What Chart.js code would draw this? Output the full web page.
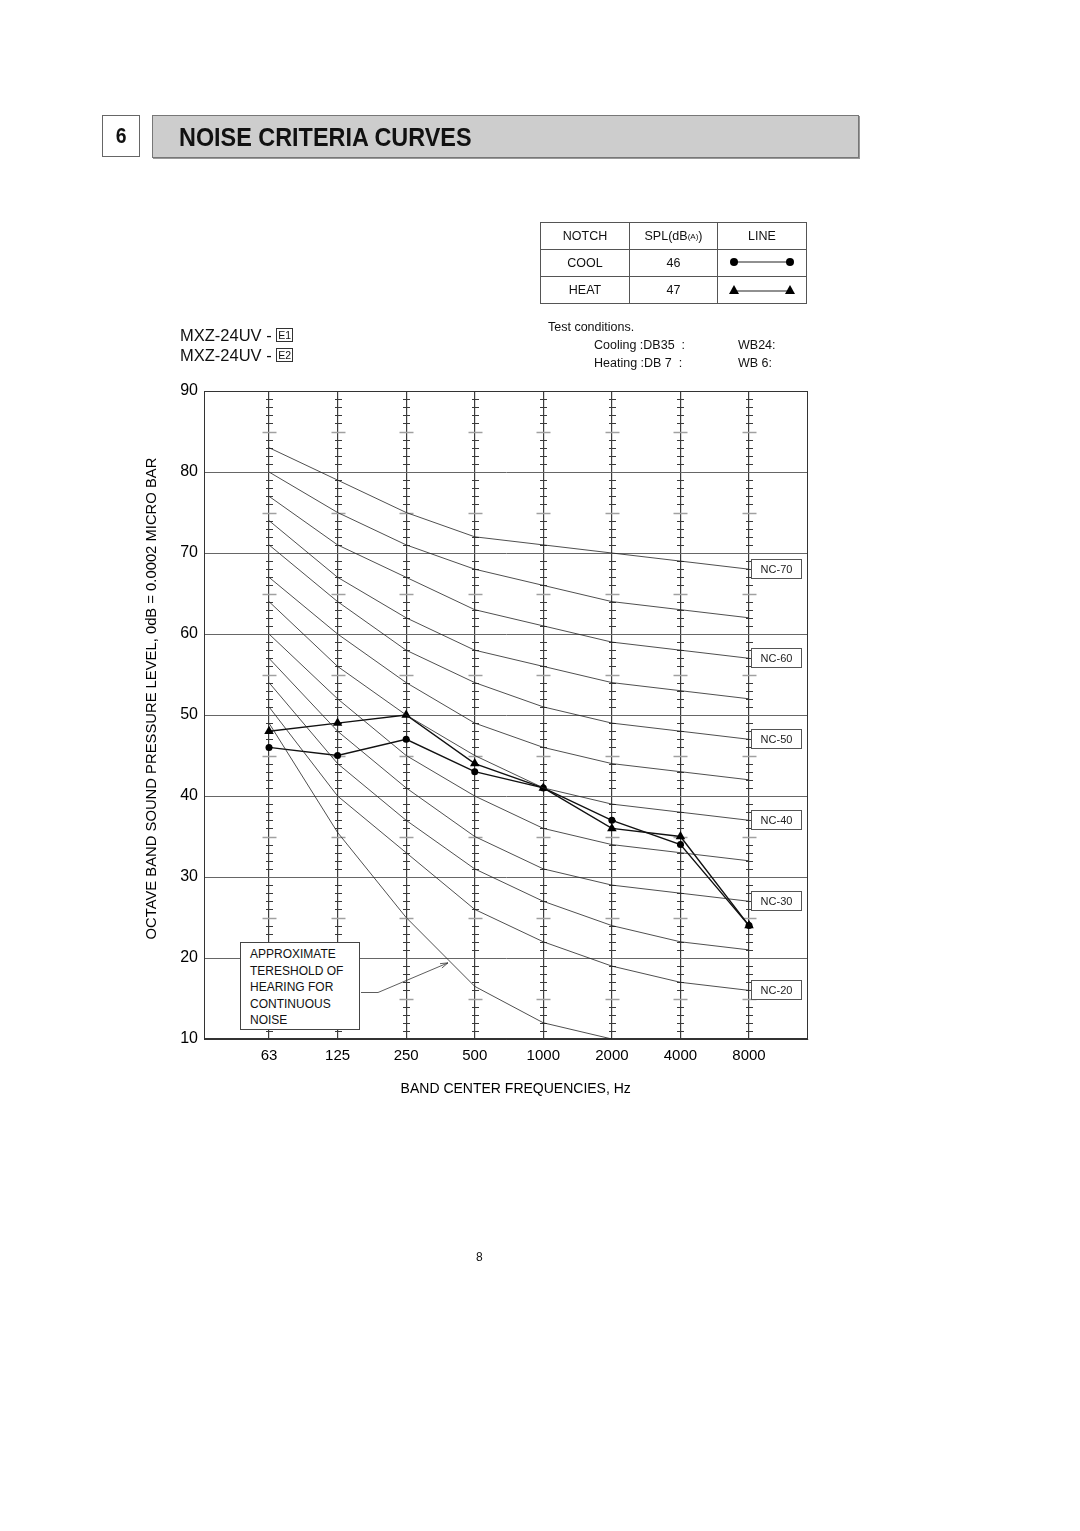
<!DOCTYPE html>
<html>
<head>
<meta charset="utf-8">
<script src="https://cdn.jsdelivr.net/npm/chart.js@4.4.1/dist/chart.umd.min.js"></script>
<style>
  body { margin: 0; background: #fff; font-family: "Liberation Sans", Arial, Helvetica, sans-serif; color: #111; }
  #page { position: relative; width: 1080px; height: 1531px; overflow: hidden; }
  #c { position: absolute; left: 0; top: 0; }
  .abs { position: absolute; }
  #secnum { left: 102px; top: 115px; width: 36px; height: 40px; border: 1px solid #666; text-align: center;
            font: bold 22px/40px "Liberation Sans", Arial, sans-serif; }
  #secnum span { display: inline-block; transform: scaleX(0.88); }
  #sectitle { left: 152px; top: 115px; width: 705px; height: 41px; background: #cdcdcd; border: 1px solid #777;
              box-shadow: 1px 1px 0 #999; }
  #sectitle span { position: absolute; left: 26px; top: 0; white-space: nowrap; transform: scaleX(0.9); transform-origin: 0 50%;
                   font: bold 26px/42px "Liberation Sans", Arial, sans-serif; }
  #legendTbl { left: 540px; top: 222px; border-collapse: collapse; border: 1.5px solid #333; font-size: 12.5px; }
  #legendTbl td { border: 1px solid #555; height: 26px; text-align: center; padding: 0; }
  #legendTbl sub { font-size: 8px; vertical-align: 1px; }
  #models { left: 180px; top: 325px; font-size: 16.5px; line-height: 20px; }
  .ebox { display: inline-block; border: 1px solid #333; font-size: 10.5px; line-height: 12px; padding: 0 1px; vertical-align: 2px; }
  .tc { font-size: 12.5px; }
  #thresh { left: 240px; top: 942px; width: 100px; height: 80px; border: 1px solid #444; background: #fff;
            padding: 3px 9px; font-size: 12px; line-height: 16.5px; }
</style>
</head>
<body>
<div id="page">
  <canvas id="c" width="1080" height="1531"></canvas>

  <div id="secnum" class="abs"><span>6</span></div>
  <div id="sectitle" class="abs"><span>NOISE CRITERIA CURVES</span></div>

  <table id="legendTbl" class="abs">
    <tr><td style="width:88px">NOTCH</td><td style="width:87px">SPL(dB<sub>(A)</sub>)</td><td style="width:88px">LINE</td></tr>
    <tr><td>COOL</td><td>46</td><td>
      <svg width="70" height="12"><line x1="7" y1="6" x2="63" y2="6" stroke="#222" stroke-width="1.2"/><circle cx="7" cy="6" r="4" fill="#000"/><circle cx="63" cy="6" r="4" fill="#000"/></svg>
    </td></tr>
    <tr><td>HEAT</td><td>47</td><td>
      <svg width="70" height="12"><line x1="7" y1="8" x2="63" y2="8" stroke="#222" stroke-width="1.2"/><polygon points="2,11 7,2 12,11" fill="#000"/><polygon points="58,11 63,2 68,11" fill="#000"/></svg>
    </td></tr>
  </table>

  <div id="models" class="abs">MXZ-24UV - <span class="ebox">E1</span><br>MXZ-24UV - <span class="ebox">E2</span></div>

  <div class="abs tc" style="left:548px;top:320px;">Test conditions.</div>
  <div class="abs tc" style="left:594px;top:338px;">Cooling :DB35&nbsp;&nbsp;:</div>
  <div class="abs tc" style="left:738px;top:338px;">WB24:</div>
  <div class="abs tc" style="left:594px;top:356px;">Heating :DB 7&nbsp;&nbsp;:</div>
  <div class="abs tc" style="left:738px;top:356px;">WB 6:</div>

  <div id="thresh" class="abs">APPROXIMATE<br>TERESHOLD OF<br>HEARING FOR<br>CONTINUOUS<br>NOISE</div>

  <div class="abs" style="left:476px;top:1250px;font-size:12px;">8</div>
</div>

<script>
// octave band centres (x categories)
const FREQS = ["63", "125", "250", "500", "1000", "2000", "4000", "8000"];
const Y_TICKS = [10, 20, 30, 40, 50, 60, 70, 80, 90];

// NC reference curves, dB per octave band
const NC_70 = [83, 79, 75, 72, 71, 70, 69, 68];
const NC_65 = [80, 75, 71, 68, 66, 64, 63, 62];
const NC_60 = [77, 71, 67, 63, 61, 59, 58, 57];
const NC_55 = [74, 67, 62, 58, 56, 54, 53, 52];
const NC_50 = [71, 64, 58, 54, 51, 49, 48, 47];
const NC_45 = [67, 60, 54, 49, 46, 44, 43, 42];
const NC_40 = [64, 56, 50, 45, 41, 39, 38, 37];
const NC_35 = [60, 52, 45, 40, 36, 34, 33, 32];
const NC_30 = [57, 48, 41, 35, 31, 29, 28, 27];
const NC_25 = [54, 44, 37, 31, 27, 24, 22, 21];
const NC_20 = [51, 40, 33, 26, 22, 19, 17, 16];
const THRESHOLD = [49, 35.5, 25, 16.5, 12, 10];

const NC_NAMES = ["NC-70", "NC-65", "NC-60", "NC-55", "NC-50", "NC-45", "NC-40", "NC-35", "NC-30", "NC-25", "NC-20"];
const NC_CURVES = [NC_70, NC_65, NC_60, NC_55, NC_50, NC_45, NC_40, NC_35, NC_30, NC_25, NC_20];
const NC_LABELLED = ["NC-70", "NC-60", "NC-50", "NC-40", "NC-30", "NC-20"];

// measured unit levels
const COOL_SPL = [46, 45, 47, 43, 41, 37, 34, 24];
const HEAT_SPL = [48, 49, 50, 44, 41, 36, 35, 24];

const FONT = "'Liberation Sans', Arial, Helvetica, sans-serif";
const toXY = (arr) => arr.map((v, i) => ({ x: i, y: v }));

const datasets = NC_CURVES.map((arr, k) => ({
  label: NC_NAMES[k],
  data: toXY(arr),
  borderColor: "#222",
  borderWidth: 0.8,
  pointRadius: 0,
  tension: 0,
}));

datasets.push({
  label: "threshold",
  data: toXY(THRESHOLD),
  borderColor: "#222",
  borderWidth: 0.8,
  pointRadius: 0,
  tension: 0,
});

datasets.push({
  label: "COOL",
  data: toXY(COOL_SPL),
  borderColor: "#111",
  borderWidth: 1.4,
  pointStyle: "circle",
  pointRadius: 3.5,
  pointBackgroundColor: "#000",
  pointBorderWidth: 0,
  tension: 0,
});

datasets.push({
  label: "HEAT",
  data: toXY(HEAT_SPL),
  borderColor: "#111",
  borderWidth: 1.4,
  pointStyle: "triangle",
  pointRadius: 5.5,
  pointBackgroundColor: "#000",
  pointBorderWidth: 0,
  tension: 0,
});

// minor dB ticks on the band lines, right frame, NC tags, threshold leader
const decor = {
  id: "decor",
  beforeDatasetsDraw(chart) {
    const { ctx, chartArea: a, scales: { x, y } } = chart;
    ctx.save();
    FREQS.forEach((f, i) => {
      const px = Math.round(x.getPixelForValue(i)) + 0.5;
      for (let v = 11; v < 90; v++) {
        if (v % 10 === 0) continue;
        const py = Math.round(y.getPixelForValue(v)) + 0.5;
        const long = v % 5 === 0;
        const h = long ? 7 : 3.5;
        ctx.strokeStyle = long ? "#a0a0a0" : "#3a3a3a";
        ctx.lineWidth = long ? 1.5 : 1;
        ctx.beginPath();
        ctx.moveTo(px - h, py);
        ctx.lineTo(px + h, py);
        ctx.stroke();
      }
    });
    ctx.strokeStyle = "#333";
    ctx.lineWidth = 1;
    ctx.strokeRect(a.left + 0.5, a.top + 0.5, a.right - a.left - 1, a.bottom - a.top - 1);
    ctx.restore();
  },
  afterDatasetsDraw(chart) {
    const { ctx, scales: { x, y } } = chart;
    ctx.save();
    const last = FREQS.length - 1;
    const bx = Math.round(x.getPixelForValue(last)) + 2.5;
    ctx.font = "11px " + FONT;
    ctx.textAlign = "center";
    ctx.textBaseline = "middle";
    NC_LABELLED.forEach((name) => {
      const arr = NC_CURVES[NC_NAMES.indexOf(name)];
      const cy = Math.round(y.getPixelForValue(arr[last]));
      ctx.fillStyle = "#fff";
      ctx.fillRect(bx, cy - 9.5, 50, 19);
      ctx.strokeStyle = "#555";
      ctx.lineWidth = 1;
      ctx.strokeRect(bx, cy - 9.5, 50, 19);
      ctx.fillStyle = "#222";
      ctx.fillText(name, bx + 25, cy + 0.5);
    });

    // leader from the threshold note box to its curve
    const tx = x.getPixelForValue(2.61);
    const ty = y.getPixelForValue(19.4);
    ctx.strokeStyle = "#333";
    ctx.lineWidth = 0.8;
    ctx.beginPath();
    ctx.moveTo(361, 992.5);
    ctx.lineTo(378, 992.5);
    ctx.lineTo(tx, ty);
    ctx.stroke();
    const ang = Math.atan2(ty - 992.5, tx - 378);
    ctx.beginPath();
    ctx.moveTo(tx - 8 * Math.cos(ang - 0.3), ty - 8 * Math.sin(ang - 0.3));
    ctx.lineTo(tx, ty);
    ctx.lineTo(tx - 8 * Math.cos(ang + 0.3), ty - 8 * Math.sin(ang + 0.3));
    ctx.stroke();
    ctx.restore();
  },
};

new Chart(document.getElementById("c"), {
  type: "line",
  data: { datasets },
  plugins: [decor],
  options: {
    responsive: false,
    animation: false,
    devicePixelRatio: 1,
    layout: { padding: { left: 140, top: 391, right: 272, bottom: 430 } },
    plugins: { legend: { display: false }, tooltip: { enabled: false } },
    scales: {
      x: {
        type: "linear",
        min: -0.948,
        max: 7.86,
        afterBuildTicks: (s) => { s.ticks = FREQS.map((f, i) => ({ value: i })); },
        afterFit: (s) => { s.height = 62; },
        ticks: {
          autoSkip: false,
          maxRotation: 0,
          padding: 8,
          color: "#000",
          font: { family: FONT, size: 15 },
          callback: (v, i) => FREQS[i],
        },
        grid: { color: "#3c3c3c", lineWidth: 1.2, drawTicks: false },
        border: { color: "#333" },
        title: {
          display: true,
          text: "     BAND CENTER FREQUENCIES, Hz",
          color: "#000",
          font: { family: FONT, size: 14 },
          padding: { top: 4, bottom: 3 },
        },
      },
      y: {
        min: 10,
        max: 90,
        afterBuildTicks: (s) => { s.ticks = Y_TICKS.map((v) => ({ value: v })); },
        afterFit: (s) => { s.width = 64; },
        ticks: {
          padding: 6,
          color: "#000",
          font: { family: FONT, size: 16 },
        },
        grid: { color: "#666", lineWidth: 1, drawTicks: false },
        border: { color: "#333" },
        title: {
          display: true,
          text: "        OCTAVE BAND SOUND PRESSURE LEVEL, 0dB = 0.0002 MICRO BAR",
          color: "#000",
          font: { family: FONT, size: 14.8 },
          padding: { top: 3, bottom: 3 },
        },
      },
    },
  },
});
</script>
</body>
</html>
